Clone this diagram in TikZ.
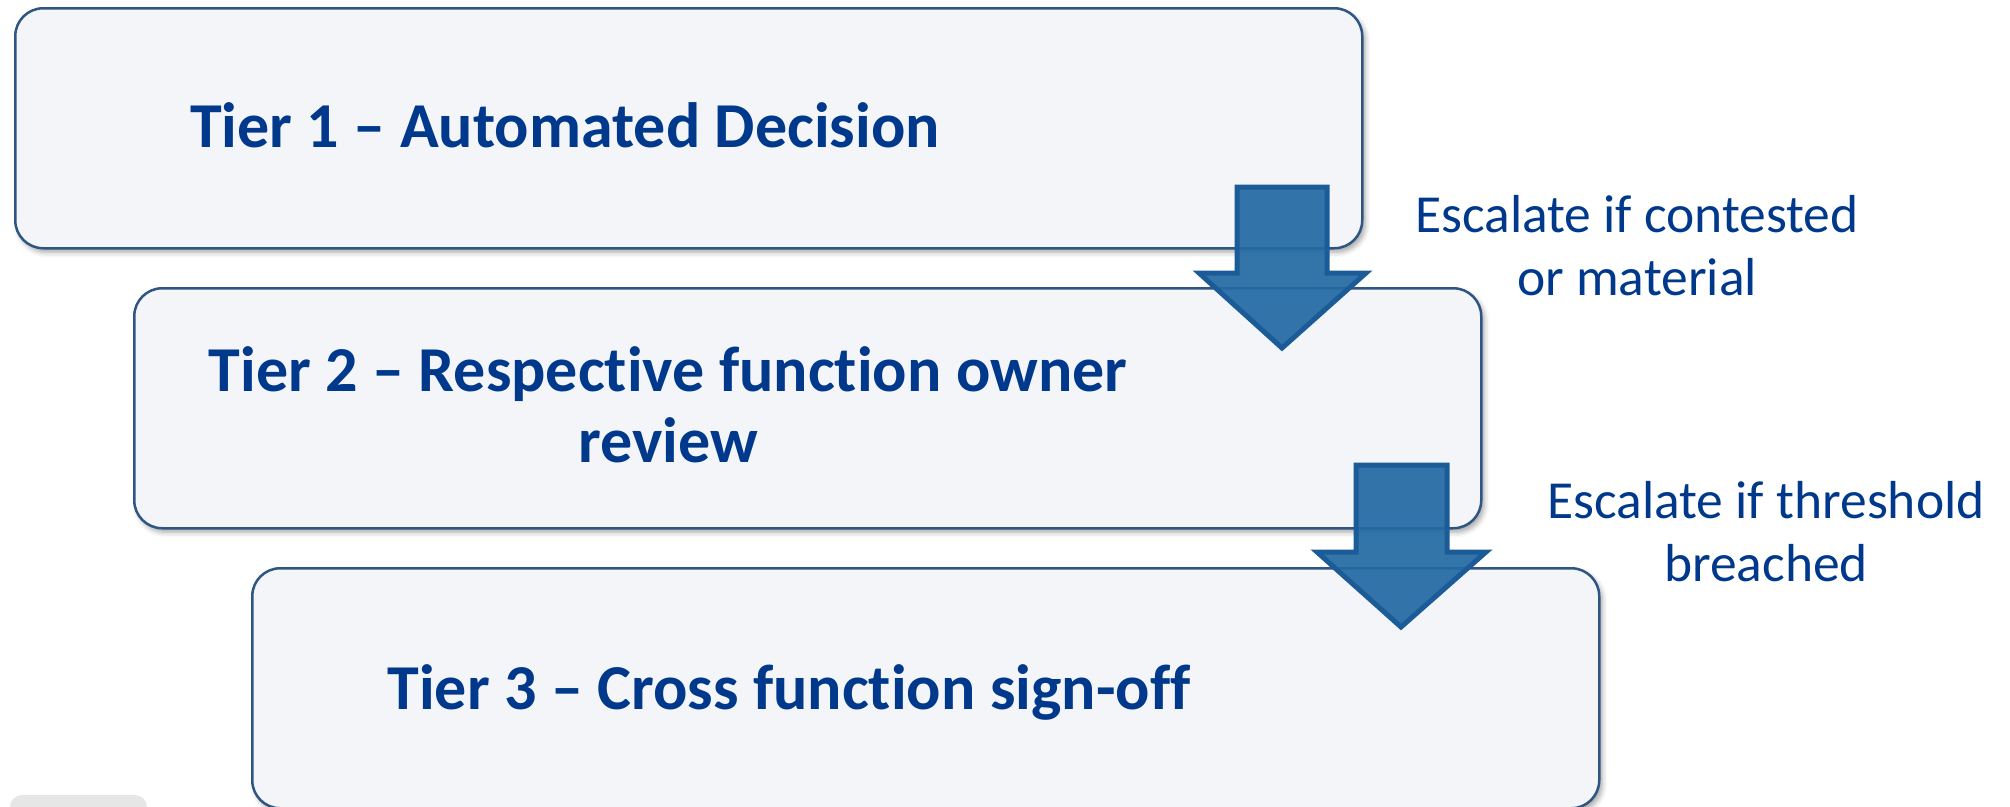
\documentclass[tikz,border=0pt]{standalone}
\usepackage{fontspec}
\setmainfont{Carlito}[Ligatures=NoCommon]
\usetikzlibrary{shadows.blur}

\definecolor{tiertext}{RGB}{0,57,140}
\definecolor{boxfill}{RGB}{243,245,249}
\definecolor{boxline}{RGB}{47,86,130}
\definecolor{arrowfill}{RGB}{36,106,163}
\definecolor{arrowline}{RGB}{27,92,152}
\definecolor{tabgrey}{RGB}{230,230,230}

\begin{document}
\begin{tikzpicture}[x=1pt, y=-1pt,
  tierbox/.style={draw=boxline, line width=2.5pt, fill=boxfill,
    rounded corners=28pt, minimum width=1347pt, minimum height=240pt,
    anchor=north west, inner sep=0pt,
    blur shadow={shadow xshift=3pt, shadow yshift=-4pt,
      shadow blur radius=5pt, shadow opacity=35}},
  tiertitle/.style={text=tiertext, align=center, inner sep=0pt,
    font=\fontsize{64}{71}\selectfont\bfseries},
  escalation/.style={text=tiertext, align=center, inner sep=0pt,
    font=\fontsize{53.5}{63}\selectfont},
  blockarrow/.style={fill=arrowfill, fill opacity=0.93,
    draw=arrowline, line width=5pt, line join=miter}]

\useasboundingbox (0,0) rectangle (2010,806);

% small grey tab peeking in at the lower left
\fill[tabgrey, rounded corners=12pt] (10,795) rectangle (147,840);

% the three tiers, stepped to the right
\node[tierbox] (tier1) at (14,7) {};
\node[tierbox] (tier2) at (133,287) {};
\node[tierbox] (tier3) at (251,567) {};

% titles (base anchor = baseline of the last line)
\node[tiertitle, anchor=base] (t1text) at (565,147) {Tier 1 – Automated Decision};
\node[tiertitle, anchor=base] (t2text) at (668,462) {Tier 2 – Respective function owner\\review};
\node[tiertitle, anchor=base] (t3text) at (789,709) {Tier 3 – Cross function sign-off};

% escalation arrows between tiers
\draw[blockarrow] (1237,187) -- (1327,187) -- (1327,273) -- (1366,273)
  -- (1282,348) -- (1199,273) -- (1237,273) -- cycle;
\draw[blockarrow] (1356,465) -- (1447,465) -- (1447,552) -- (1486,552)
  -- (1401,627) -- (1317,552) -- (1356,552) -- cycle;

% escalation conditions
\node[escalation, anchor=base] (esc1) at (1637,295) {Escalate if contested\\or material};
\node[escalation, anchor=base] (esc2) at (1766,581) {Escalate if threshold\\breached};

\end{tikzpicture}
\end{document}
